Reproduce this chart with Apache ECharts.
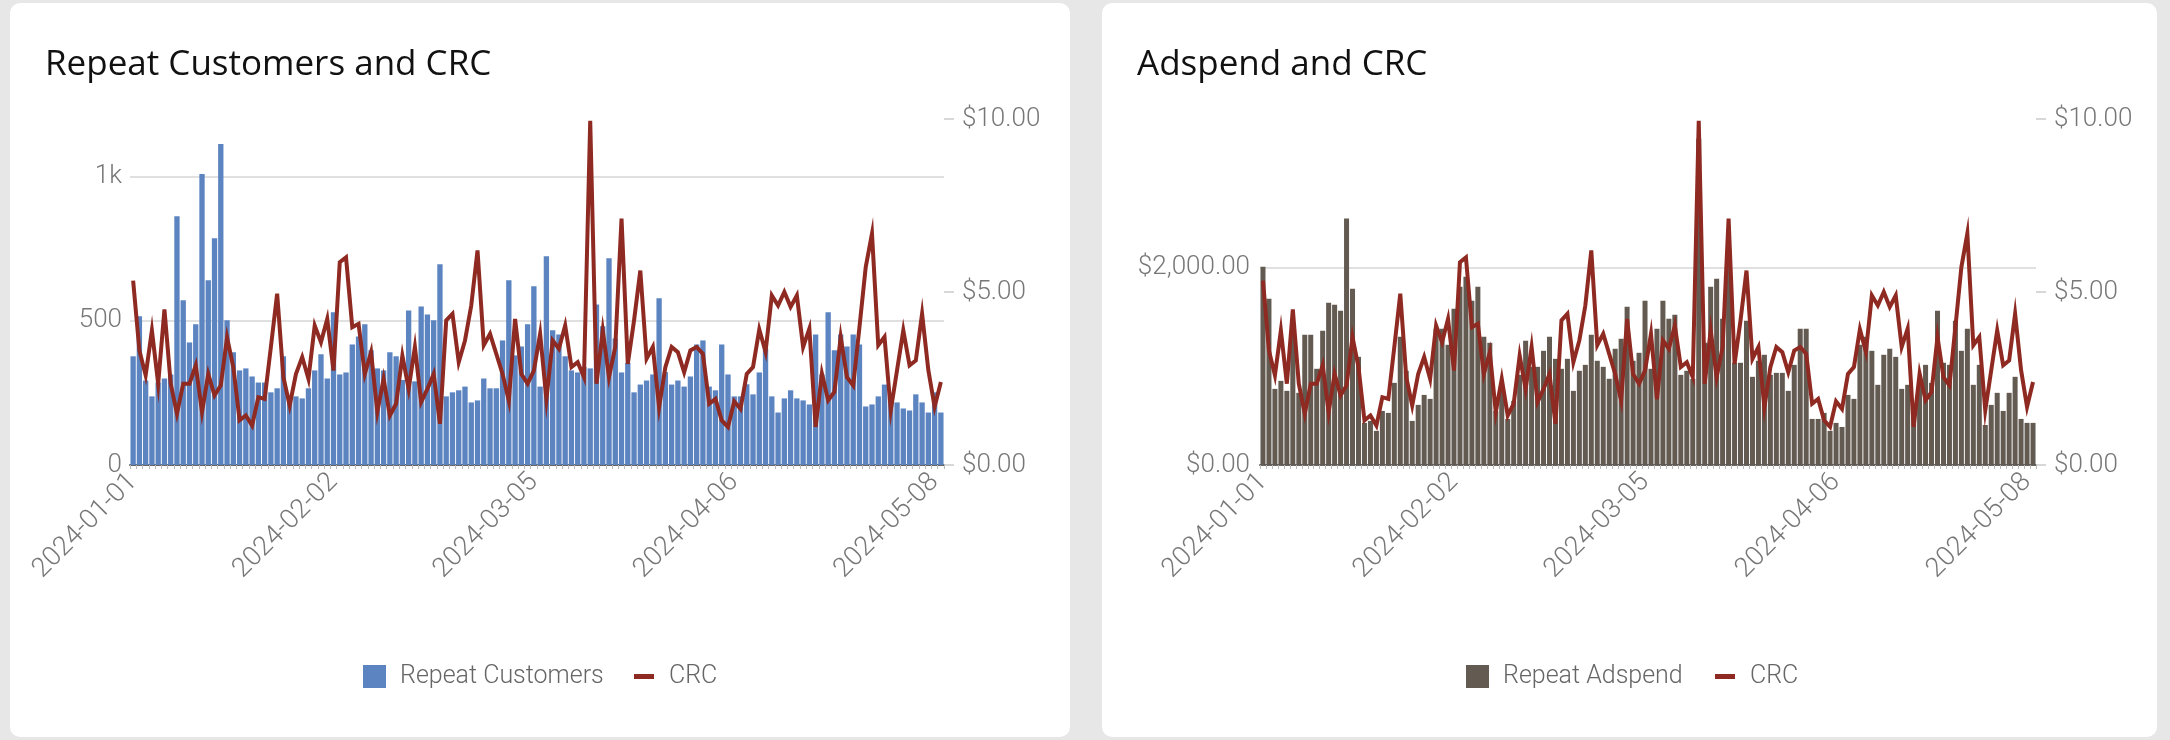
<!DOCTYPE html>
<html>
<head>
<meta charset="utf-8">
<script src="https://cdn.jsdelivr.net/npm/echarts/dist/echarts.min.js"></script>
<style>
  html, body { margin: 0; padding: 0; background: #e7e7e7; width: 2170px; height: 740px; overflow: hidden; }
  .card { position: absolute; background: #fff; border-radius: 10px; top: 3px; height: 734px; }
  #c1 { left: 10px; width: 1060px; }
  #c2 { left: 1102px; width: 1055px; }
</style>
</head>
<body>
<div class="card" id="c1"></div>
<div class="card" id="c2"></div>
<script>
const dates = [
'2024-01-01','2024-01-02','2024-01-03','2024-01-04','2024-01-05','2024-01-06','2024-01-07','2024-01-08','2024-01-09','2024-01-10',
'2024-01-11','2024-01-12','2024-01-13','2024-01-14','2024-01-15','2024-01-16','2024-01-17','2024-01-18','2024-01-19','2024-01-20',
'2024-01-21','2024-01-22','2024-01-23','2024-01-24','2024-01-25','2024-01-26','2024-01-27','2024-01-28','2024-01-29','2024-01-30','2024-01-31',
'2024-02-01','2024-02-02','2024-02-03','2024-02-04','2024-02-05','2024-02-06','2024-02-07','2024-02-08','2024-02-09','2024-02-10',
'2024-02-11','2024-02-12','2024-02-13','2024-02-14','2024-02-15','2024-02-16','2024-02-17','2024-02-18','2024-02-19','2024-02-20',
'2024-02-21','2024-02-22','2024-02-23','2024-02-24','2024-02-25','2024-02-26','2024-02-27','2024-02-28','2024-02-29',
'2024-03-01','2024-03-02','2024-03-03','2024-03-04','2024-03-05','2024-03-06','2024-03-07','2024-03-08','2024-03-09','2024-03-10',
'2024-03-11','2024-03-12','2024-03-13','2024-03-14','2024-03-15','2024-03-16','2024-03-17','2024-03-18','2024-03-19','2024-03-20',
'2024-03-21','2024-03-22','2024-03-23','2024-03-24','2024-03-25','2024-03-26','2024-03-27','2024-03-28','2024-03-29','2024-03-30','2024-03-31',
'2024-04-01','2024-04-02','2024-04-03','2024-04-04','2024-04-05','2024-04-06','2024-04-07','2024-04-08','2024-04-09','2024-04-10',
'2024-04-11','2024-04-12','2024-04-13','2024-04-14','2024-04-15','2024-04-16','2024-04-17','2024-04-18','2024-04-19','2024-04-20',
'2024-04-21','2024-04-22','2024-04-23','2024-04-24','2024-04-25','2024-04-26','2024-04-27','2024-04-28','2024-04-29','2024-04-30',
'2024-05-01','2024-05-02','2024-05-03','2024-05-04','2024-05-05','2024-05-06','2024-05-07','2024-05-08','2024-05-09'
];

const repeatCustomers = [
377,516,293,238,286,300,314,863,571,425,
488,1009,641,786,1113,502,391,328,335,307,
286,286,252,266,377,238,238,231,266,328,
384,300,530,314,321,418,446,488,398,335,
328,391,377,295,536,290,550,522,502,696,
238,252,259,272,217,224,300,266,266,432,
641,380,411,488,620,272,724,467,453,377,
328,321,340,335,557,481,717,439,321,354,
252,279,293,314,578,322,279,293,272,307,
418,432,272,259,418,314,238,238,280,245,
321,404,238,182,231,259,231,224,210,453,
314,530,398,453,411,453,418,203,210,238,
279,217,217,196,189,245,217,182,252,182
];

const repeatAdspend = [
2006,1682,770,851,750,1350,730,1317,1317,973,
1358,1642,1621,1561,2493,1784,1094,426,446,345,
547,527,831,1297,953,446,608,709,669,1378,
1378,1216,1581,1804,1905,1662,1804,1297,1236,547,
750,466,649,912,1257,993,993,1155,1297,1074,
973,1074,750,953,1013,1317,1054,993,872,1176,
1277,1601,1054,1135,1662,973,1378,1662,1480,1520,
912,953,870,3300,1236,1804,1885,1480,2200,1034,
1034,1459,892,1054,1115,912,932,932,750,1013,
1378,1378,466,466,527,345,426,385,709,669,
1216,1297,1155,811,1115,1176,1094,770,811,500,
811,1013,831,1561,1034,1013,1459,1155,1378,811,
1013,405,608,730,547,730,892,466,426,426
];

const crc = [
5.33,3.31,2.59,3.89,2.35,4.50,2.35,1.48,2.35,2.35,
2.88,1.53,2.63,2.01,2.30,3.69,2.83,1.29,1.43,1.14,
1.96,1.91,3.41,4.95,2.54,1.72,2.63,3.12,2.49,4.03,
3.55,4.22,2.73,5.86,6.00,3.98,4.08,2.63,3.26,1.53,
2.49,1.43,1.77,3.16,2.20,3.41,1.82,2.20,2.63,1.19,
4.18,4.37,2.97,3.60,4.61,6.20,3.46,3.79,3.21,2.63,
1.86,4.22,2.63,2.35,2.73,3.79,1.90,3.60,3.36,4.03,
2.83,2.97,2.54,9.95,2.35,3.89,2.54,3.41,7.12,2.92,
4.18,5.62,3.07,3.41,1.67,2.83,3.41,3.26,2.68,3.31,
3.41,3.21,1.77,1.91,1.29,1.10,1.84,1.62,2.63,2.83,
3.92,3.27,4.90,4.61,5.00,4.57,4.90,3.41,3.94,1.10,
2.64,1.87,2.11,3.70,2.54,2.30,3.99,5.72,6.69,3.46,
3.70,1.58,2.74,3.89,2.88,3.02,4.37,2.74,1.68,2.40
];

const customerTicks = { min: 0, max: 1200, interval: 500 };
const adspendTicks = { min: 0, max: 3500, interval: 2000 };
const crcTicks = { min: 0, max: 10, interval: 5 };

const LABEL_FONT = 'Roboto';
const axisLabelColor = '#777';
const lineColor = '#8e2a22';

function money(v) {
  return '$' + v.toLocaleString('en-US', { minimumFractionDigits: 2, maximumFractionDigits: 2 });
}

function buildOption(cfg) {
  return {
    animation: false,
    title: {
      text: cfg.title, left: 35, top: 45, padding: 0,
      textStyle: { fontFamily: 'Open Sans', fontSize: 35, fontWeight: 500, color: '#111' }
    },
    legend: [
      {
        data: [{ name: cfg.barName, icon: 'rect' }],
        left: cfg.legend1Left, top: 661, padding: 0,
        itemWidth: 23, itemHeight: 23,
        itemStyle: { borderWidth: 0 },
        textStyle: { fontFamily: LABEL_FONT, fontWeight: 300, fontSize: 25, color: '#666', padding: [0, 0, 0, 9] }
      },
      {
        data: [{ name: 'CRC', icon: 'rect' }],
        left: cfg.legend2Left, top: 661, padding: 0,
        itemWidth: 20, itemHeight: 5,
        itemStyle: { borderWidth: 0 },
        textStyle: { fontFamily: LABEL_FONT, fontWeight: 300, fontSize: 25, color: '#666', padding: [0, 0, 0, 10] }
      }
    ],
    grid: { left: cfg.gridLeft, right: cfg.gridRight, top: 116, bottom: 272 },
    xAxis: {
      type: 'category', data: dates,
      axisLine: { lineStyle: { color: '#666', width: 2 } },
      axisTick: { show: true, interval: 0, length: 4, lineStyle: { color: '#bbb' } },
      axisLabel: { interval: 31, rotate: 45, margin: 13, fontFamily: LABEL_FONT, fontWeight: 300, fontSize: 27, color: axisLabelColor }
    },
    yAxis: [
      {
        type: 'value', min: cfg.barTicks.min, max: cfg.barTicks.max, interval: cfg.barTicks.interval,
        axisLine: { show: false }, axisTick: { show: false },
        splitLine: { show: true, showMaxLine: false, lineStyle: { color: '#d6d6d6', width: 1.5 } },
        axisLabel: { showMaxLabel: false, margin: cfg.leftMargin, formatter: cfg.barFormatter,
          fontFamily: LABEL_FONT, fontWeight: 300, fontSize: 26, color: axisLabelColor }
      },
      {
        type: 'value', position: 'right', min: crcTicks.min, max: crcTicks.max, interval: crcTicks.interval,
        axisLine: { show: false },
        axisTick: { show: true, length: 10, lineStyle: { color: '#ccc', width: 1.5 } },
        splitLine: { show: false },
        axisLabel: { margin: 18, formatter: money, fontFamily: LABEL_FONT, fontWeight: 300, fontSize: 26, color: axisLabelColor }
      }
    ],
    series: [
      {
        name: cfg.barName, type: 'bar', data: cfg.barData, barCategoryGap: cfg.gap,
        color: cfg.barColor, itemStyle: { color: cfg.barColor }
      },
      {
        name: 'CRC', type: 'line', yAxisIndex: 1, data: crc, symbol: 'none', showSymbol: false,
        color: lineColor, itemStyle: { color: lineColor },
        lineStyle: { color: lineColor, width: 4, join: 'miter' }, z: 5
      }
    ]
  };
}

const chart1 = echarts.init(document.getElementById('c1'), null, { renderer: 'canvas' });
chart1.setOption(buildOption({
  title: 'Repeat Customers and CRC', barName: 'Repeat Customers', barData: repeatCustomers,
  barColor: '#5b84c1', barTicks: customerTicks, gap: '15%',
  gridLeft: 120, gridRight: 126, leftMargin: 8, legend1Left: 353, legend2Left: 624,
  barFormatter: function (v) { return v >= 1000 ? (v / 1000) + 'k' : String(v); }
}));

const chart2 = echarts.init(document.getElementById('c2'), null, { renderer: 'canvas' });
chart2.setOption(buildOption({
  title: 'Adspend and CRC', barName: 'Repeat Adspend', barData: repeatAdspend,
  barColor: '#635a51', barTicks: adspendTicks, gap: '16%',
  gridLeft: 158, gridRight: 121, leftMargin: 10, legend1Left: 364, legend2Left: 613,
  barFormatter: money
}));
</script>
</body>
</html>
